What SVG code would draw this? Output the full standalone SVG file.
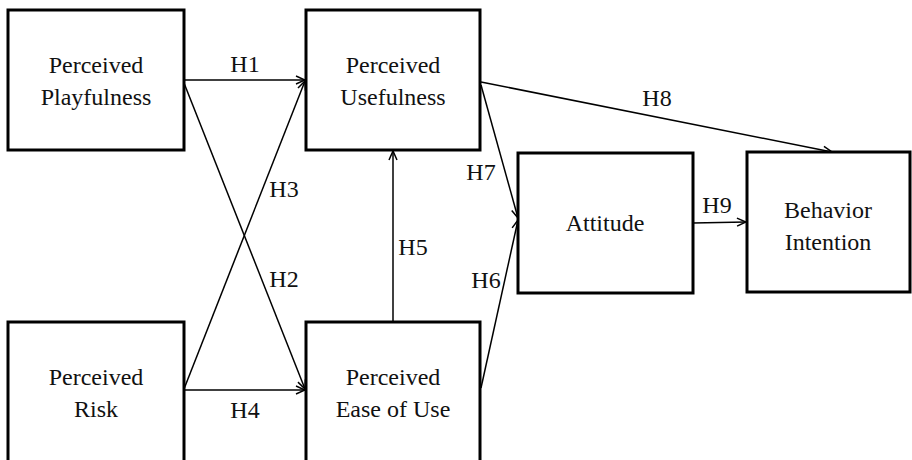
<svg xmlns="http://www.w3.org/2000/svg" width="912" height="460" viewBox="0 0 912 460">
<style>
.box{fill:#fff;stroke:#000;stroke-width:3}
.t{font-family:'Liberation Serif','DejaVu Serif',serif;font-size:24px;fill:#111;text-anchor:middle}
.c{stroke:#000;stroke-width:1.5;fill:none}
</style>
<defs>
<marker id="ah" viewBox="0 0 10 10" refX="10" refY="5" markerWidth="10" markerHeight="10" markerUnits="userSpaceOnUse" orient="auto">
<path d="M1,1 L10,5 L1,9" fill="none" stroke="#000" stroke-width="1.5"/>
</marker>
</defs>
<rect width="912" height="460" fill="#fff"/>
<g id="connectors">
<line class="c" x1="184" y1="80" x2="305" y2="80" marker-end="url(#ah)"/>
<line class="c" x1="184" y1="83" x2="305" y2="389" marker-end="url(#ah)"/>
<line class="c" x1="184" y1="389" x2="305" y2="81" marker-end="url(#ah)"/>
<line class="c" x1="184" y1="390" x2="305" y2="390" marker-end="url(#ah)"/>
<line class="c" x1="393" y1="322" x2="393" y2="151" marker-end="url(#ah)"/>
<line class="c" x1="481" y1="82" x2="832" y2="152" marker-end="url(#ah)"/>
<line class="c" x1="481" y1="85" x2="518" y2="218" marker-end="url(#ah)"/>
<line class="c" x1="481" y1="388" x2="518" y2="220" marker-end="url(#ah)"/>
<line class="c" x1="693" y1="223" x2="746" y2="222" marker-end="url(#ah)"/>
<text class="t" x="245" y="72">H1</text>
<text class="t" x="284" y="197">H3</text>
<text class="t" x="284" y="287">H2</text>
<text class="t" x="245" y="418">H4</text>
<text class="t" x="413" y="255">H5</text>
<text class="t" x="657" y="106">H8</text>
<text class="t" x="481" y="180">H7</text>
<text class="t" x="486" y="288">H6</text>
<text class="t" x="717" y="213">H9</text>
</g>
<g id="node-playfulness">
<rect class="box" x="8" y="10" width="176" height="140"/>
<text class="t" x="96" y="73">Perceived</text>
<text class="t" x="96" y="105">Playfulness</text>
</g>
<g id="node-usefulness">
<rect class="box" x="306" y="10" width="174" height="140"/>
<text class="t" x="393" y="73">Perceived</text>
<text class="t" x="393" y="105">Usefulness</text>
</g>
<g id="node-risk">
<rect class="box" x="8" y="322" width="176" height="142"/>
<text class="t" x="96" y="385">Perceived</text>
<text class="t" x="96" y="417">Risk</text>
</g>
<g id="node-ease">
<rect class="box" x="306" y="322" width="174" height="142"/>
<text class="t" x="393" y="385">Perceived</text>
<text class="t" x="393" y="417">Ease of Use</text>
</g>
<g id="node-attitude">
<rect class="box" x="518" y="153" width="175" height="140"/>
<text class="t" x="605" y="231">Attitude</text>
</g>
<g id="node-intention">
<rect class="box" x="747" y="152" width="163" height="140"/>
<text class="t" x="828" y="218">Behavior</text>
<text class="t" x="828" y="250">Intention</text>
</g>
</svg>
